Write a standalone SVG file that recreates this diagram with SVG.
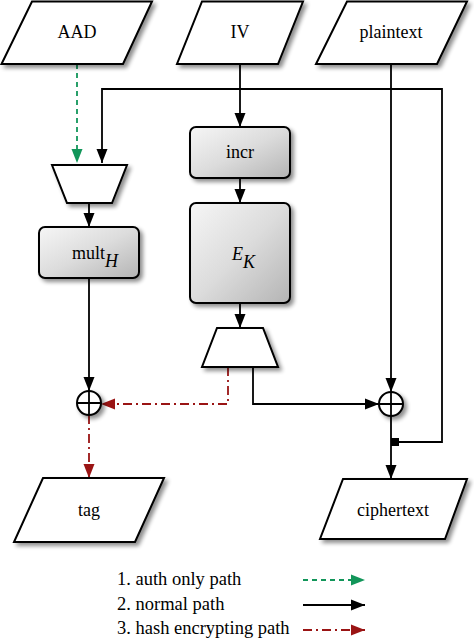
<svg xmlns="http://www.w3.org/2000/svg" width="474" height="641" viewBox="0 0 474 641">
<style>
.n{fill:#fff;stroke:#000;stroke-width:2;stroke-linejoin:miter}
.b{fill:url(#g);stroke:#000;stroke-width:2}
.t{font-family:"Liberation Serif","DejaVu Serif",serif;font-size:18px;fill:#000}
.l{font-size:18.5px}
.c{stroke:#000;stroke-width:1.8;fill:none}
.k{stroke:#000;stroke-width:1.8;fill:none;marker-end:url(#ak)}
.gr{stroke:#12965a;stroke-width:1.8;fill:none;stroke-dasharray:5,4;marker-end:url(#ag)}
.rd{stroke:#9a1414;stroke-width:1.8;fill:none;stroke-dasharray:9,4,2,4;marker-end:url(#ar)}
</style>
<defs>
<linearGradient id="g" x1="0" y1="0" x2="1" y2="1">
<stop offset="0" stop-color="#f6f6f6"/>
<stop offset="0.5" stop-color="#dcdcdc"/>
<stop offset="1" stop-color="#b4b4b4"/>
</linearGradient>
<filter id="sh" x="-20%" y="-20%" width="150%" height="150%">
<feGaussianBlur in="SourceAlpha" stdDeviation="2"/>
<feOffset dx="3" dy="3" result="o"/>
<feComponentTransfer><feFuncA type="linear" slope="0.45"/></feComponentTransfer>
<feMerge><feMergeNode/><feMergeNode in="SourceGraphic"/></feMerge>
</filter>
<marker id="ak" markerUnits="userSpaceOnUse" markerWidth="15" markerHeight="12" viewBox="0 0 15 12" refX="14" refY="6" orient="auto"><path d="M0,0.5 L14,6 L0,11.5 Z" fill="#000"/></marker>
<marker id="ag" markerUnits="userSpaceOnUse" markerWidth="15" markerHeight="12" viewBox="0 0 15 12" refX="14" refY="6" orient="auto"><path d="M0,0.5 L14,6 L0,11.5 Z" fill="#12965a"/></marker>
<marker id="ar" markerUnits="userSpaceOnUse" markerWidth="15" markerHeight="12" viewBox="0 0 15 12" refX="14" refY="6" orient="auto"><path d="M0,0.5 L14,6 L0,11.5 Z" fill="#9a1414"/></marker>
</defs>

<g id="connectors">
<path class="gr" d="M77,64 V163"/>
<path class="k" d="M396,442 H442 V89 H102 V163"/>
<path class="k" d="M240,64 V127"/>
<path class="k" d="M240,178 V203"/>
<path class="k" d="M240,303 V328"/>
<path class="k" d="M89,203 V227"/>
<path class="k" d="M89,278 V391"/>
<path class="k" d="M253,367 V404 H379"/>
<path class="k" d="M391,64 V392"/>
<path class="k" d="M391,416 V479"/>
<path class="rd" d="M228,367 V404 H101"/>
<path class="rd" d="M89,415 V478"/>
<rect x="391" y="438" width="8" height="8" fill="#000"/>
</g>

<g id="AAD"><polygon class="n" filter="url(#sh)" points="32,1.5 152,1.5 123,64 1.5,64"/><text class="t" x="77" y="38" text-anchor="middle">AAD</text></g>
<g id="IV"><polygon class="n" filter="url(#sh)" points="202,1.5 303,1.5 278,64 177,64"/><text class="t" x="240" y="38" text-anchor="middle">IV</text></g>
<g id="plaintext"><polygon class="n" filter="url(#sh)" points="347,1.5 467,1.5 437,64 316,64"/><text class="t" x="391" y="38" text-anchor="middle">plaintext</text></g>

<g id="mux1"><polygon class="n" filter="url(#sh)" points="52,165 127,165 112,203 67,203"/></g>
<g id="multH"><rect class="b" filter="url(#sh)" x="39" y="227" width="100" height="51" rx="6"/><text class="t" x="72" y="259">mult<tspan font-style="italic" dy="8">H</tspan></text></g>
<g id="incr"><rect class="b" filter="url(#sh)" x="190" y="127" width="100" height="51" rx="6"/><text class="t" x="240" y="158" text-anchor="middle">incr</text></g>
<g id="EK"><rect class="b" filter="url(#sh)" x="190" y="203" width="100" height="100" rx="6"/><text class="t" x="232" y="260" font-style="italic">E<tspan dy="8">K</tspan></text></g>
<g id="mux2"><polygon class="n" filter="url(#sh)" points="217,328 263,328 278,367 202,367"/></g>

<g id="xor1"><circle class="n" filter="url(#sh)" cx="89" cy="403" r="12"/><path class="c" d="M77,403 H101 M89,391 V415"/></g>
<g id="xor2"><circle class="n" filter="url(#sh)" cx="391" cy="404" r="12"/><path class="c" d="M379,404 H403 M391,392 V416"/></g>

<g id="tag"><polygon class="n" filter="url(#sh)" points="43,478 164,478 135,542 14,542"/><text class="t" x="89" y="516" text-anchor="middle">tag</text></g>
<g id="ciphertext"><polygon class="n" filter="url(#sh)" points="343,479 467,479 445,539 320,539"/><text class="t" x="393" y="516" text-anchor="middle">ciphertext</text></g>

<g id="legend">
<text class="t l" x="117" y="585">1. auth only path</text>
<text class="t l" x="117" y="610">2. normal path</text>
<text class="t l" x="117" y="634">3. hash encrypting path</text>
<path class="gr" d="M303,580 H365"/>
<path class="k" d="M303,605 H365"/>
<path class="rd" d="M303,630 H365"/>
</g>
</svg>
